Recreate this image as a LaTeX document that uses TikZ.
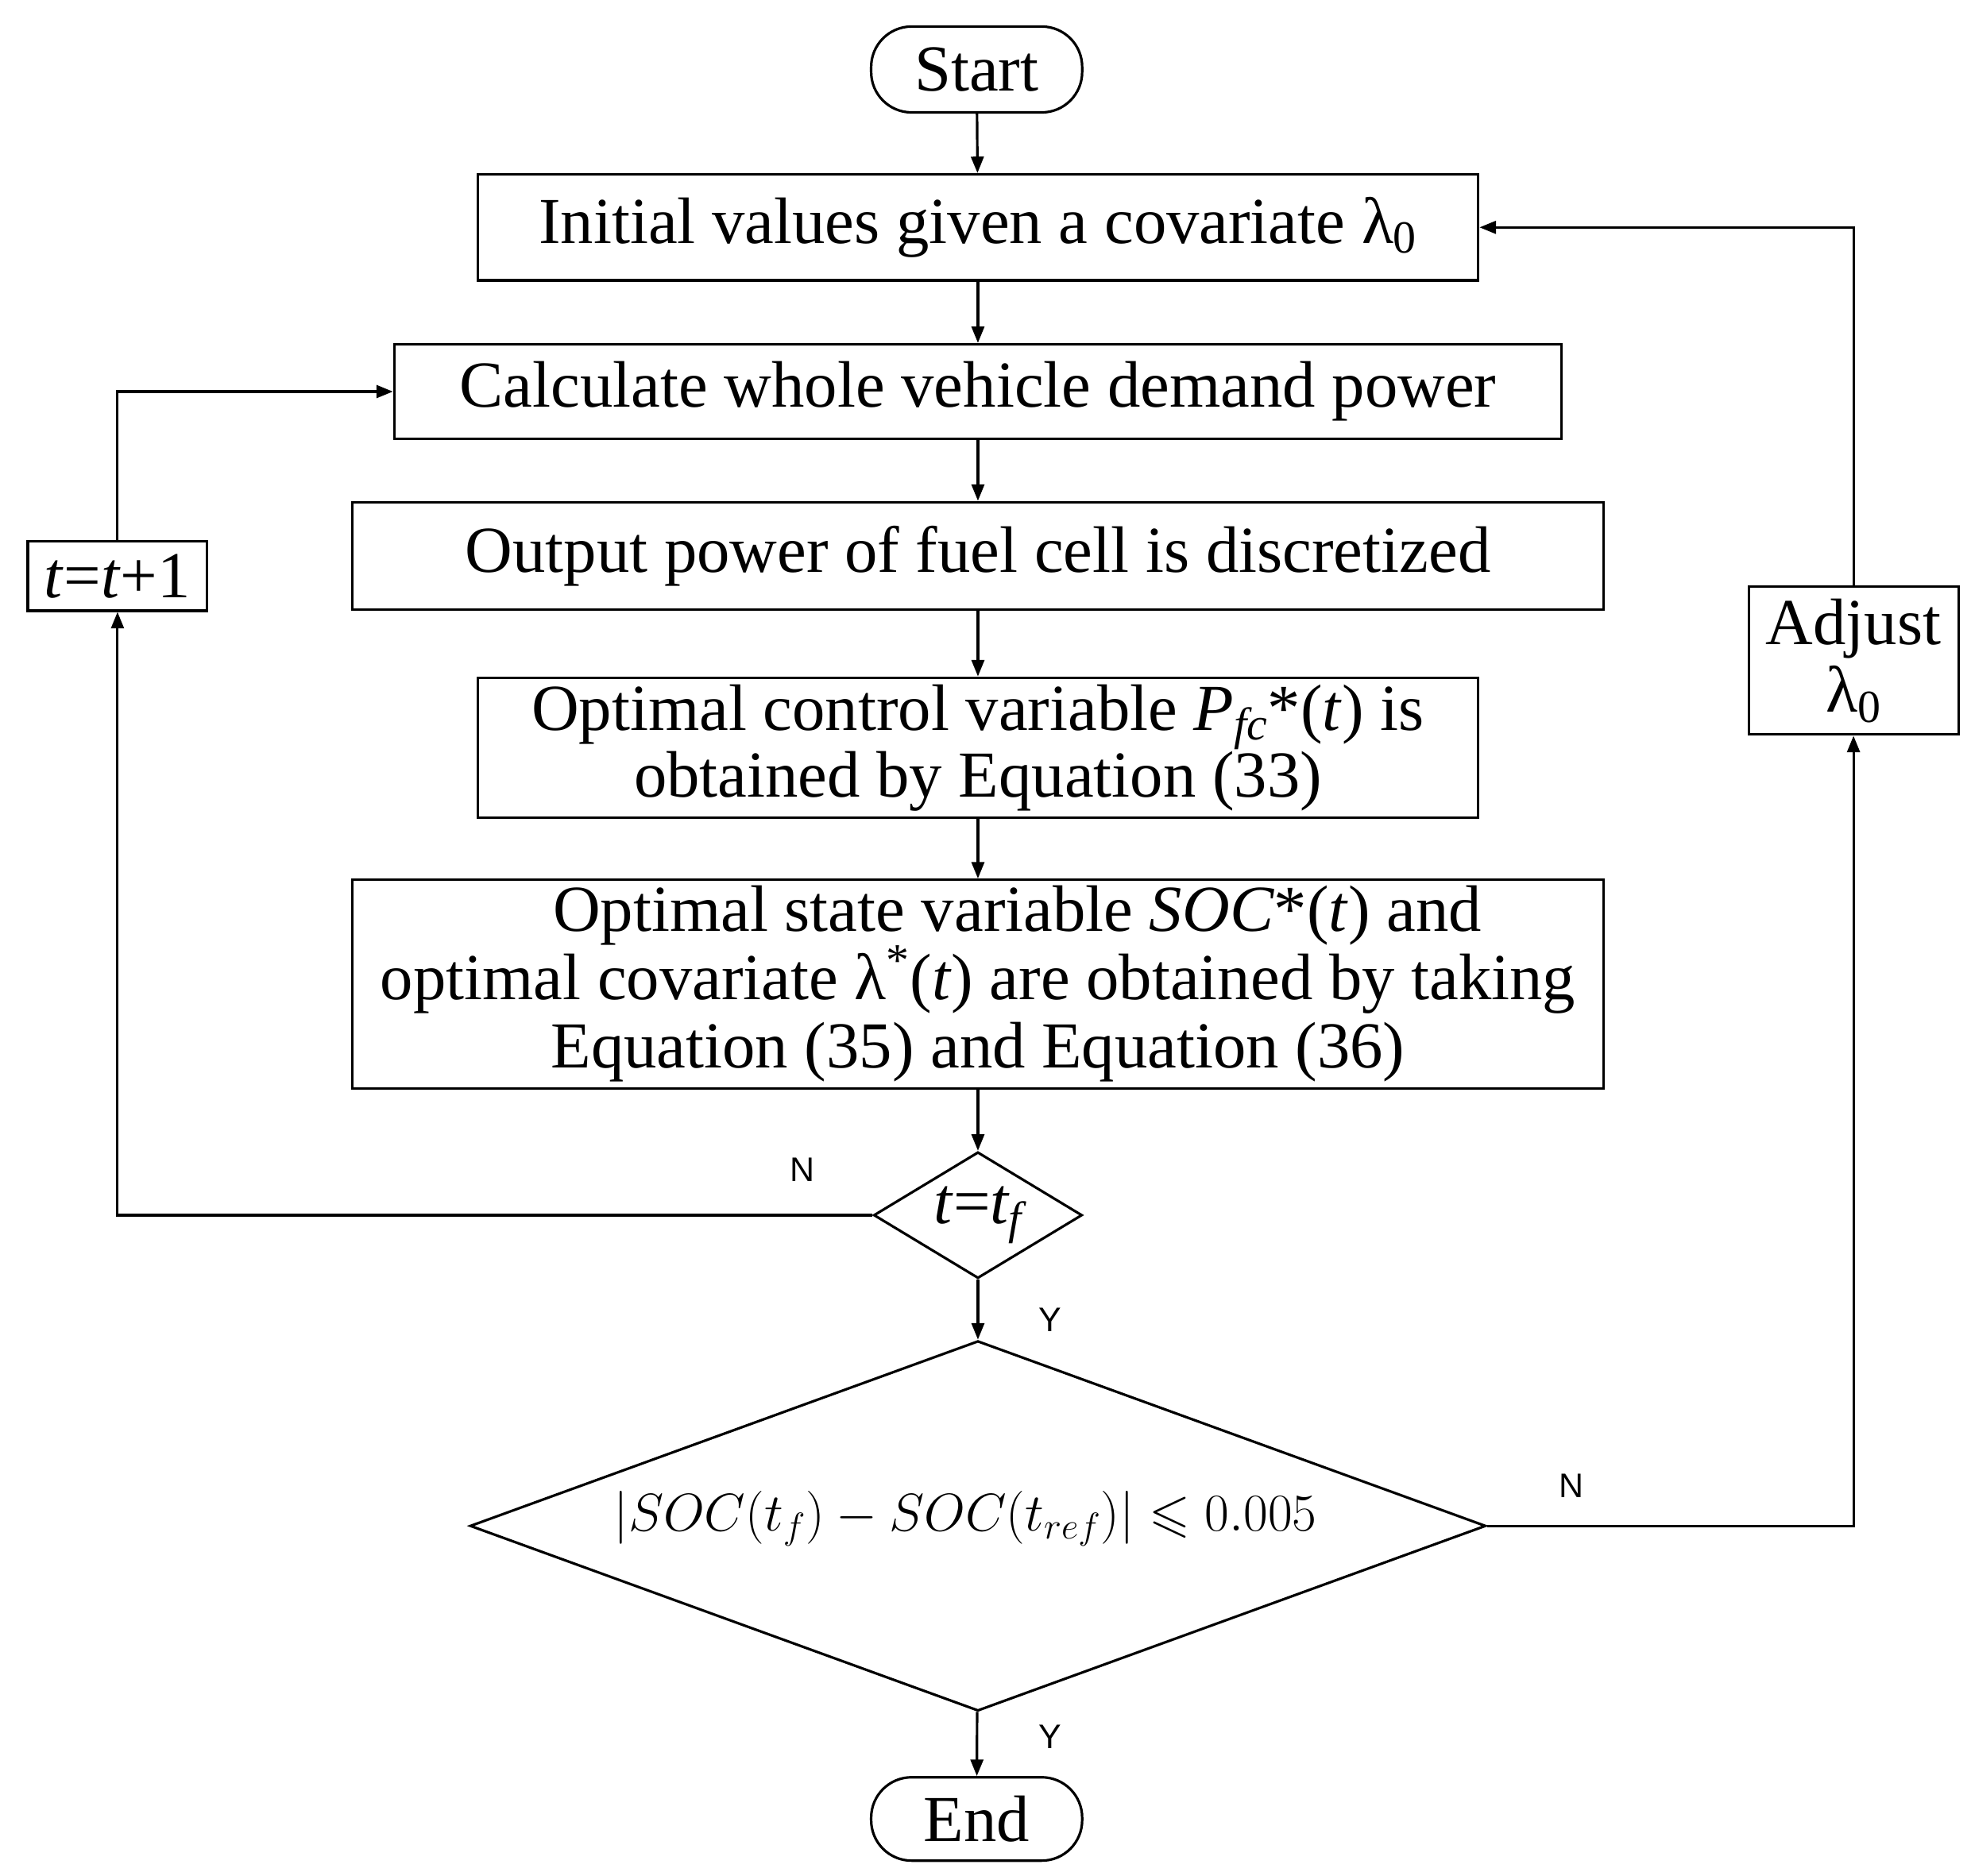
\RequirePackage{fix-cm}
\documentclass[tikz,border=0pt]{standalone}
\usepackage{amssymb}
\usepackage{fontspec}
\setmainfont{Liberation Serif}
\newfontfamily\lblfont{Liberation Sans}
\usetikzlibrary{shapes.geometric,arrows.meta}
\begin{document}
\begin{tikzpicture}[x=1pt,y=-1pt,
  every node/.style={font=\fontsize{52}{54}\selectfont},
  box/.style={draw,line width=2pt,inner sep=0pt,align=center},
  term/.style={box,rounded corners=32pt},
  dia/.style={draw,line width=2pt,diamond,inner sep=0pt},
  arr/.style={line width=2pt,-{Triangle[length=13pt,width=10pt]}},
  lbl/.style={font=\lblfont\fontsize{27}{29}\selectfont}]
\useasboundingbox (0,0) rectangle (1560,1485);
\node[term,minimum width=167pt,minimum height=68pt] (start) at (773,55) {Start};
\node[box,minimum width=792pt,minimum height=84pt] (init) at (774,180) {Initial values given a covariate λ\textsubscript{0}};
\node[box,minimum width=924pt,minimum height=75pt] (calc) at (774,310) {Calculate whole vehicle demand power};
\node[box,minimum width=990pt,minimum height=85pt] (out) at (774,440) {Output power of fuel cell is discretized};
\node[box,minimum width=792pt,minimum height=111pt,font=\fontsize{52}{53}\selectfont] (ctrl) at (774,592) {Optimal control variable \textit{P\textsubscript{fc}}*(\textit{t}) is\\obtained by Equation (33)};
\node[box,minimum width=990pt,minimum height=165pt,font=\fontsize{52}{54}\selectfont] (state) at (774,779) {\hspace{1.2em}Optimal state variable \textit{SOC}*(\textit{t}) and\\optimal covariate λ\textsuperscript{*}(\textit{t}) are obtained by taking\\Equation (35) and Equation (36)};
\node[dia,minimum width=165pt,minimum height=100pt,aspect=1.65] (d1) at (774,962) {};
\node at (774,962) {\textit{t}=\textit{t\textsubscript{f}}};
\node[dia,minimum width=804pt,minimum height=293pt,aspect=2.74] (d2) at (774,1208) {};
\node[font=\fontsize{42}{46}\selectfont] at (764,1202) {$|SOC(t_f)-SOC(t_{ref})|\leqslant 0.005$};
\node[term,minimum width=167pt,minimum height=66pt] (end) at (773,1440) {End};
\node[box,minimum width=142pt,minimum height=55pt] (inc) at (93,456) {\textit{t}=\textit{t}+1};
\node[box,minimum width=166pt,minimum height=117pt,font=\fontsize{52}{54}\selectfont] (adj) at (1467,523) {Adjust\\λ\textsubscript{0}};
\draw[arr] (start) -- (init);
\draw[arr] (init) -- (calc);
\draw[arr] (calc) -- (out);
\draw[arr] (out) -- (ctrl);
\draw[arr] (ctrl) -- (state);
\draw[arr] (state) -- (d1);
\draw[arr] (d1) -- (d2);
\draw[arr] (d2) -- (end);
\draw[arr] (d1.west) -| (inc.south);
\draw[arr] (inc.north) |- (calc.west);
\draw[arr] (d2.east) -| (adj.south);
\draw[arr] (adj.north) |- (init.east);
\node[lbl] at (635,926) {N};
\node[lbl] at (831,1045) {Y};
\node[lbl] at (1244,1176) {N};
\node[lbl] at (831,1375) {Y};
\end{tikzpicture}
\end{document}
